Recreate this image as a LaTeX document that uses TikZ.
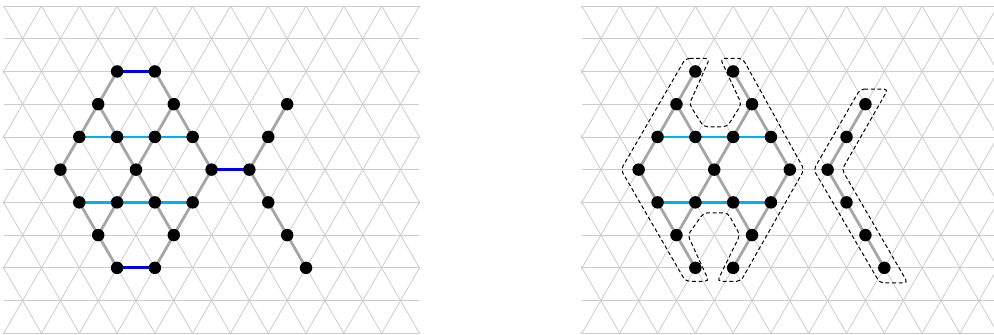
\documentclass[tikz,border=0pt]{standalone}
\usepackage{xcolor}
\usepackage{tikz}
\usetikzlibrary{calc}

\definecolor{latgray}{HTML}{CCCCCC}
\definecolor{bondgray}{HTML}{A6A6A6}
\definecolor{bondcyan}{HTML}{00B0F0}
\definecolor{bondblue}{HTML}{0000EE}

\begin{document}
\begin{tikzpicture}[
  x=1cm,
  y=-0.866cm,
  lat/.style={draw=latgray, line width=0.6pt},
  bond/.style={draw=bondgray, line width=2.1pt},
  hbond/.style={draw=bondcyan, line width=2.1pt},
  cut/.style={draw=bondblue, line width=2.1pt},
  site/.style={circle, fill=black, inner sep=0pt, minimum size=0.33cm},
  region/.style={draw=black, line width=0.75pt, dash pattern=on 3pt off 2pt, rounded corners=3pt}
]
\useasboundingbox (-0.098,-0.183) rectangle (26.202,10.052);

\foreach \p/\ox in {L/0, R/15.3} {
  \begin{scope}[xshift=\ox cm]
    \begin{scope}
      \clip (-0.02,-0.03) rectangle (11.02,10.03);
      \foreach \r in {0,...,10}
        \draw[lat] (0,\r) -- (11,\r);
      \foreach \c in {-5,...,11}
        \draw[lat] (\c,0) -- ++(5,10);
      \foreach \c in {0,...,16}
        \draw[lat] (\c,0) -- ++(-5,10);
    \end{scope}
    \foreach \n/\c/\r in {A/3/2, B/4/2, C/2.5/3, D/4.5/3, E/2/4, F/3/4, G/4/4, H/5/4,
      I/1.5/5, J/3.5/5, K/5.5/5, L/2/6, M/3/6, N/4/6, O/5/6, P/2.5/7, Q/4.5/7,
      R/3/8, S/4/8, T/7.5/3, U/7/4, V/6.5/5, W/7/6, X/7.5/7, Y/8/8}
      \coordinate (\p-\n) at (\c,\r);
  \end{scope}
  \foreach \u/\v in {A/C, C/E, E/I, I/L, L/P, P/R, B/D, D/H, H/K, K/O, O/Q, Q/S,
    C/F, F/J, J/N, N/Q, D/G, G/J, J/M, M/P, T/U, U/V, V/W, W/X, X/Y}
    \draw[bond] (\p-\u) -- (\p-\v);
  \foreach \u/\v in {E/F, F/G, G/H, L/M, M/N, N/O}
    \draw[hbond] (\p-\u) -- (\p-\v);
}

\foreach \u/\v in {A/B, R/S, K/V}
  \draw[cut] (L-\u) -- (L-\v);

\foreach \p in {L, R}
  \foreach \n in {A,B,C,D,E,F,G,H,I,J,K,L,M,N,O,P,Q,R,S,T,U,V,W,X,Y}
    \node[site] (\p-\n-dot) at (\p-\n) {};

\draw[region] ($(R-A)+(-0.26,-0.4)$) -- ($(R-A)+(0.38,-0.4)$) -- ($(R-C)+(0.34,0)$)
  -- ($(R-F)+(0.22,-0.31)$) -- ($(R-G)+(-0.16,-0.31)$) -- ($(R-D)+(-0.28,0)$)
  -- ($(R-B)+(-0.34,-0.4)$) -- ($(R-B)+(0.25,-0.4)$) -- ($(R-K)+(0.38,0)$)
  -- ($(R-S)+(0.2,0.41)$) -- ($(R-S)+(-0.42,0.41)$) -- ($(R-Q)+(-0.32,0)$)
  -- ($(R-N)+(-0.14,0.32)$) -- ($(R-M)+(0.22,0.32)$) -- ($(R-P)+(0.3,0)$)
  -- ($(R-R)+(0.36,0.41)$) -- ($(R-R)+(-0.26,0.41)$) -- ($(R-I)+(-0.47,0)$) -- cycle;
\draw[region] ($(R-T)+(-0.14,-0.46)$) -- ($(R-T)+(0.6,-0.46)$) -- ($(R-V)+(0.38,0)$)
  -- ($(R-Y)+(0.62,0.46)$) -- ($(R-Y)+(-0.12,0.46)$) -- ($(R-V)+(-0.37,0)$) -- cycle;
\end{tikzpicture}
\end{document}
